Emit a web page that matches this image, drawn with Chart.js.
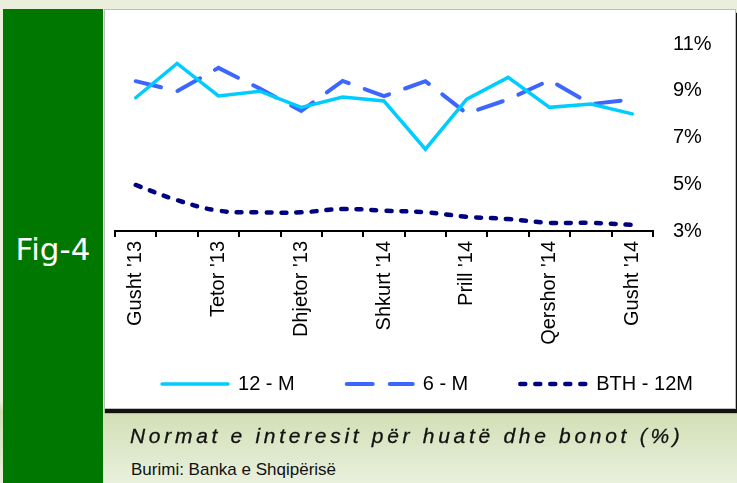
<!DOCTYPE html>
<html lang="sq">
<head>
    <meta charset="UTF-8">
    <title>Normat e interesit</title>
    <script src="https://cdn.jsdelivr.net/npm/chart.js"></script>
    <style>
        html, body { margin: 0; padding: 0; width: 737px; height: 483px; overflow: hidden; }
        body {
            position: relative;
            background: linear-gradient(to bottom, #e9efdb 0px, #e9efdb 400px, #d2dfb5 412px, #e9f0dd 483px);
            font-family: "Liberation Sans", Arial, sans-serif;
        }
        #side {
            position: absolute; left: 3px; top: 9px; width: 100px; height: 474px;
            background: #007800;
        }
        #side span {
            position: absolute; left: 0; width: 100px; top: 225px; line-height: 1;
            text-align: center; color: #fff; font-family: "DejaVu Sans", sans-serif; font-size: 31px;
        }
        #box {
            position: absolute; left: 104px; top: 9px; width: 630px; height: 398px;
            background: #fff; border: 1px solid #bdbdbd;
            box-shadow: 1px 4px 1px #111;
        }
        #chart { position: absolute; left: 100px; top: 10px; }
        #title {
            position: absolute; left: 130px; top: 424px;
            font-style: italic; font-size: 21px; letter-spacing: 3.7px; color: #111;
            -webkit-text-stroke: 0.3px #111;
        }
        #source {
            position: absolute; left: 131px; top: 460px;
            font-size: 17px; color: #111;
        }
    </style>
</head>
<body>
    <div id="side"><span>Fig-4</span></div>
    <div id="box"></div>
    <canvas id="chart" width="680" height="425"></canvas>
    <div id="title">Normat e interesit për huatë dhe bonot (%)</div>
    <div id="source">Burimi: Banka e Shqipërisë</div>

    <script>
        // Months Aug '13 - Aug '14, only every other one is labelled
        const months = ["Gusht '13", "Shtator '13", "Tetor '13", "Nëntor '13", "Dhjetor '13", "Janar '14",
                        "Shkurt '14", "Mars '14", "Prill '14", "Maj '14", "Qershor '14", "Korrik '14", "Gusht '14"];

        const rate12m = [8.70, 10.17, 8.78, 8.98, 8.29, 8.73, 8.56, 6.50, 8.64, 9.57, 8.29, 8.43, 8.01];
        const rate6m  = [9.41, 8.98, 9.98, 9.09, 8.14, 9.42, 8.77, 9.41, 8.03, 8.63, 9.45, 8.43, 8.63];
        const bth12m  = [4.97, 4.32, 3.87, 3.80, 3.80, 3.94, 3.87, 3.80, 3.61, 3.51, 3.35, 3.35, 3.26];

        const seriesNames = ['12 - M', '6 - M', 'BTH - 12M'];
        const yTicks = [3, 5, 7, 9, 11];

        const font = { family: '"Liberation Sans", Arial, sans-serif', size: 20 };

        // the legend needs a wide gap between items but sits close under the axis labels,
        // so nudge it after the layout is done
        const legendNudge = {
            id: 'legendNudge',
            afterLayout(chart, args, opts) {
                const lg = chart.legend;
                if (!lg) return;
                lg.top -= opts.dy;
                lg.bottom -= opts.dy;
                lg.left -= opts.dx;
                lg.right -= opts.dx;
            }
        };

        // with usePointStyle the legend takes the point style, so copy the line's dash back in
        function legendLabels(chart) {
            const items = Chart.defaults.plugins.legend.labels.generateLabels(chart);
            items.forEach((item, i) => {
                const ds = chart.data.datasets[i];
                item.lineDash = ds.borderDash || [];
                item.lineWidth = ds.borderWidth;
                item.lineCap = ds.borderCapStyle;
                item.strokeStyle = ds.borderColor;
            });
            return items;
        }

        const ctx = document.getElementById('chart').getContext('2d');
        new Chart(ctx, {
            type: 'line',
            data: {
                labels: months,
                datasets: [
                    {
                        label: seriesNames[0],
                        data: rate12m,
                        borderColor: '#00ccff',
                        borderWidth: 3.5,
                        borderCapStyle: 'round',
                        pointRadius: 0,
                        tension: 0
                    },
                    {
                        label: seriesNames[1],
                        data: rate6m,
                        borderColor: '#3d66ff',
                        borderWidth: 4,
                        borderDash: [26, 17],
                        borderCapStyle: 'round',
                        pointRadius: 0,
                        tension: 0
                    },
                    {
                        label: seriesNames[2],
                        data: bth12m,
                        borderColor: '#000080',
                        borderWidth: 4.5,
                        borderDash: [5, 10],
                        borderCapStyle: 'round',
                        pointRadius: 0,
                        tension: 0.4
                    }
                ]
            },
            plugins: [legendNudge],
            options: {
                responsive: false,
                animation: false,
                devicePixelRatio: 1,
                layout: { padding: { left: 15, right: 0, top: 34, bottom: 4 } },
                plugins: {
                    tooltip: { enabled: false },
                    legendNudge: { dx: 20, dy: 27 },
                    legend: {
                        position: 'bottom',
                        labels: {
                            usePointStyle: true,
                            pointStyle: 'line',
                            pointStyleWidth: 66,
                            padding: 52,
                            color: '#000',
                            font: font,
                            generateLabels: legendLabels
                        }
                    }
                },
                scales: {
                    x: {
                        offset: true,
                        afterFit: (scale) => { scale.height = 118; },
                        border: { display: true, color: '#000', width: 2 },
                        grid: { display: true, offset: true, drawOnChartArea: false, color: '#000', lineWidth: 2, tickLength: 6 },
                        ticks: {
                            autoSkip: false,
                            maxRotation: 90,
                            minRotation: 90,
                            padding: 4,
                            color: '#000',
                            font: font,
                            callback: function (value, index) {
                                return index % 2 === 0 ? months[index] : '';
                            }
                        }
                    },
                    y: {
                        position: 'right',
                        min: yTicks[0],
                        max: yTicks[yTicks.length - 1],
                        afterFit: (scale) => { scale.width = 127; },
                        border: { display: false },
                        grid: { display: false, drawTicks: false },
                        ticks: {
                            stepSize: 2,
                            padding: 20,
                            color: '#000',
                            font: font,
                            callback: (v) => v + '%'
                        }
                    }
                }
            }
        });
    </script>
</body>
</html>
